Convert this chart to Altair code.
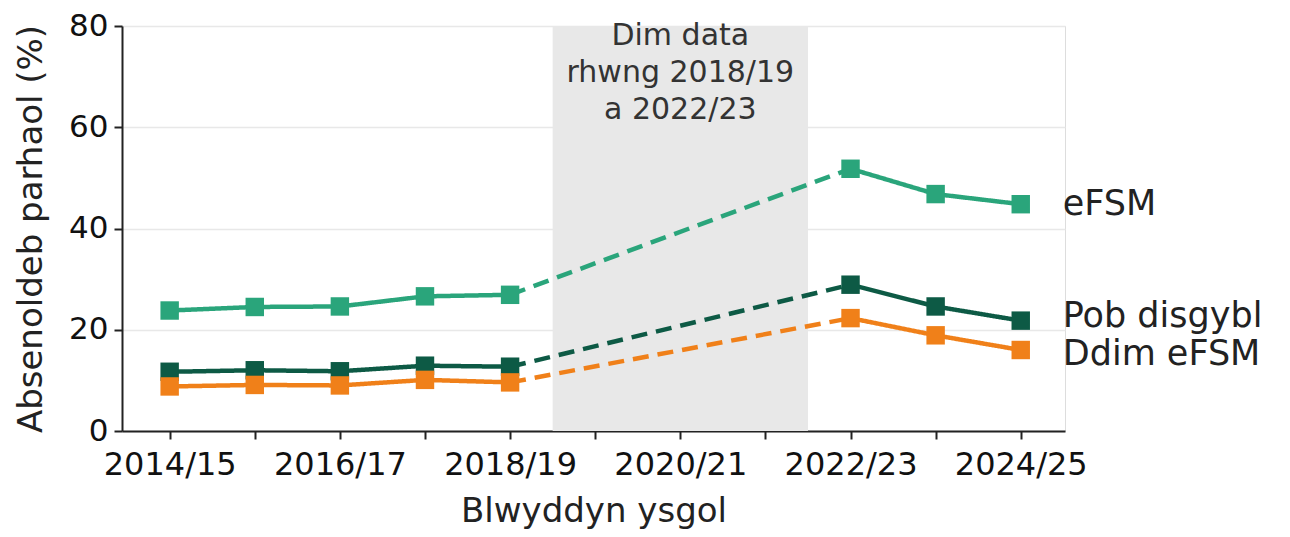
import altair as alt
import pandas as pd

years = ["2014/15", "2015/16", "2016/17", "2017/18", "2018/19", "2019/20",
         "2020/21", "2021/22", "2022/23", "2023/24", "2024/25"]
series_names = ["eFSM", "Pob disgybl", "Ddim eFSM"]
colors = ["#2aa57b", "#0d5a45", "#f08019"]

# values for years with data (indices 0-4 and 8-10)
data_idx = [0, 1, 2, 3, 4, 8, 9, 10]
efsm = [23.8, 24.5, 24.6, 26.6, 26.9, 51.8, 46.8, 44.8]
pob = [11.7, 12.0, 11.8, 12.9, 12.7, 28.9, 24.6, 21.8]
ddim = [8.8, 9.1, 9.0, 10.1, 9.6, 22.3, 18.9, 16.0]
values = {"eFSM": efsm, "Pob disgybl": pob, "Ddim eFSM": ddim}

FONT = "DejaVu Sans"

rows = []
for s in series_names:
    v = dict(zip(data_idx, values[s]))
    for i in [0, 1, 2, 3, 4]:
        rows.append({"series": s, "seg": s + "_a", "style": "solid", "x": i, "y": v[i]})
    for i in [8, 9, 10]:
        rows.append({"series": s, "seg": s + "_c", "style": "solid", "x": i, "y": v[i]})
    for i in [4, 8]:
        rows.append({"series": s, "seg": s + "_b", "style": "dash", "x": i, "y": v[i]})
df = pd.DataFrame(rows)
pts = df[df["style"] == "solid"]

xscale = alt.Scale(domain=[-0.56, 10.52], nice=False, zero=False)
yscale = alt.Scale(domain=[0, 80], nice=False)
cscale = alt.Scale(domain=series_names, range=colors)

H = 405

band = alt.Chart(pd.DataFrame({"x": [4.5], "x2": [7.5]})).mark_rect(
    color="#e8e8e8", opacity=1
).encode(
    x=alt.X("x:Q", scale=xscale),
    x2="x2:Q",
    y=alt.value(0),
    y2=alt.value(H),
)

xlabel_expr = "datum.value % 2 == 0 ? " + str(years) + "[datum.value] : ''"

lines = alt.Chart(df).mark_line(strokeWidth=4.5).encode(
    x=alt.X("x:Q", scale=xscale, title="Blwyddyn ysgol",
            axis=alt.Axis(values=list(range(11)), labelExpr=xlabel_expr,
                          grid=False, domainColor="#222", tickColor="#222",
                          domainWidth=2, tickWidth=2, tickSize=8,
                          labelFontSize=32, titleFontSize=34, labelPadding=10,
                          titlePadding=14, labelColor="#111", titleColor="#222",
                          labelFont=FONT, titleFont=FONT, titleFontWeight="normal",
                          labelOverlap=False)),
    y=alt.Y("y:Q", scale=yscale, title="Absenoldeb parhaol (%)",
            axis=alt.Axis(values=[0, 20, 40, 60, 80], grid=True, gridColor="#e8e8e8",
                          gridWidth=1.5, domainColor="#222", tickColor="#222",
                          domainWidth=2, tickWidth=2, tickSize=8,
                          labelFontSize=31, titleFontSize=34, labelPadding=6,
                          titlePadding=20, labelColor="#111", titleColor="#222",
                          labelFont=FONT, titleFont=FONT, titleFontWeight="normal")),
    color=alt.Color("series:N", scale=cscale, legend=None),
    detail="seg:N",
    strokeDash=alt.StrokeDash("style:N",
                              scale=alt.Scale(domain=["solid", "dash"], range=[[1, 0], [16, 9]]),
                              legend=None),
)

points = alt.Chart(pts).mark_point(shape="square", filled=True, size=340, opacity=1).encode(
    x=alt.X("x:Q", scale=xscale),
    y=alt.Y("y:Q", scale=yscale),
    color=alt.Color("series:N", scale=cscale, legend=None),
)

note = alt.Chart(pd.DataFrame({"x": [6], "y": [80]})).mark_text(
    text=["Dim data", "rhwng 2018/19", "a 2022/23"], font=FONT, fontSize=30,
    lineHeight=37, baseline="top", align="center", dy=-5, color="#333"
).encode(x=alt.X("x:Q", scale=xscale), y=alt.Y("y:Q", scale=yscale))

label_dy = {"eFSM": 0, "Pob disgybl": -5, "Ddim eFSM": 4}
labels = []
for s in series_names:
    ldf = pd.DataFrame({"x": [10], "y": [values[s][-1]], "t": [s]})
    labels.append(alt.Chart(ldf).mark_text(
        align="left", baseline="middle", dx=42, dy=label_dy[s], font=FONT,
        fontSize=35, color="#222"
    ).encode(x=alt.X("x:Q", scale=xscale), y=alt.Y("y:Q", scale=yscale), text="t:N"))

chart = alt.layer(band, lines, points, note, *labels).properties(
    width=943, height=H,
    autosize=alt.AutoSizeParams(type="none"),
    padding={"left": 114, "top": 18, "right": 215, "bottom": 98},
).configure_view(stroke=None).configure(background="white")

chart.save("out.html", embed_options={"renderer": "svg", "actions": False})
